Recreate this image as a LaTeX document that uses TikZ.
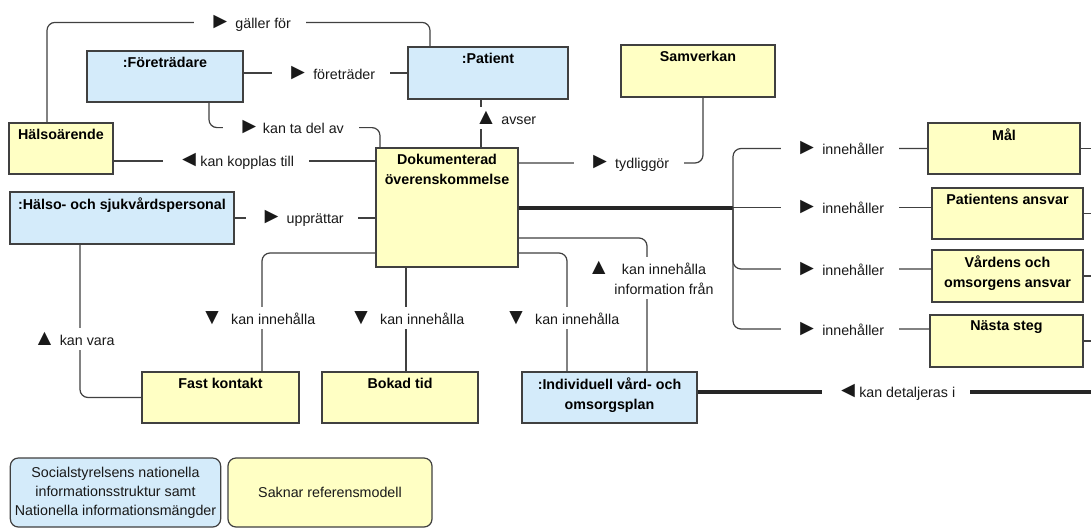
\documentclass[tikz,border=0pt]{standalone}
\usepackage{fontspec}
\setmainfont{Liberation Sans}
\definecolor{umlblue}{RGB}{212,235,250}
\definecolor{umlyellow}{RGB}{255,255,196}
\definecolor{edgegray}{RGB}{64,64,64}
\definecolor{txtgray}{RGB}{25,25,25}
\newcommand{\diafont}{\fontsize{10.7}{15}\selectfont}
\newcommand{\bigtri}[1]{{\fontsize{17}{15}\selectfont #1}}
\newcommand{\pointR}{\bigtri{►}}
\newcommand{\pointL}{\bigtri{◄}}
\newcommand{\pointU}{\bigtri{▲}}
\newcommand{\pointD}{\bigtri{▼}}
\tikzstyle{cls} = [rectangle, draw=edgegray, line width=0.9pt, inner sep=0pt]
\tikzstyle{ttl} = [anchor=north, yshift=-4.5pt, inner sep=0pt, align=center, font=\diafont\bfseries, text=black]
\tikzstyle{conn} = [draw=edgegray, line width=0.9pt, rounded corners=6pt]
\tikzstyle{trunk} = [draw=black!85, line width=3pt]
\tikzstyle{lbl} = [fill=white, inner xsep=11pt, inner ysep=3pt, text=txtgray]
\tikzstyle{vlbl} = [lbl, inner xsep=3pt]
\tikzstyle{legend} = [rectangle, rounded corners=6pt, draw=edgegray, line width=0.9pt, align=center, text=txtgray, font=\fontsize{10.7}{14.3}\selectfont]

\begin{document}
\begin{tikzpicture}[x=0.75pt, y=-0.75pt, font=\diafont]
\useasboundingbox[fill=white] (0,0) rectangle (1091,529);

% classes
\node at (165,76.5) (fore) [cls, fill=umlblue, minimum width=117pt, minimum height=38.25pt, label={[ttl]north:{:Företrädare}}] {};
\node at (488,73) (patient) [cls, fill=umlblue, minimum width=120pt, minimum height=39pt, label={[ttl]north:{:Patient}}] {};
\node at (698,71) (samv) [cls, fill=umlyellow, minimum width=115.5pt, minimum height=39pt, label={[ttl]north:{Samverkan}}] {};
\node at (61,148.5) (halso) [cls, fill=umlyellow, minimum width=78pt, minimum height=38.25pt, label={[ttl]north:{Hälsoärende}}] {};
\node at (122,218) (hsp) [cls, fill=umlblue, minimum width=168pt, minimum height=39pt, label={[ttl]north:{:Hälso- och sjukvårdspersonal}}] {};
\node at (447,207.5) (dok) [cls, fill=umlyellow, minimum width=106.5pt, minimum height=89.25pt, label={[ttl]north:{Dokumenterad\\överenskommelse}}] {};
\node at (1004,148.5) (mal) [cls, fill=umlyellow, minimum width=114pt, minimum height=38.25pt, label={[ttl]north:{Mål}}] {};
\node at (1007.5,213.5) (pansv) [cls, fill=umlyellow, minimum width=113.25pt, minimum height=38.25pt, label={[ttl]north:{Patientens ansvar}}] {};
\node at (1007.5,276) (vansv) [cls, fill=umlyellow, minimum width=113.25pt, minimum height=39pt, label={[ttl]north:{Vårdens och\\omsorgens ansvar}}] {};
\node at (1006.5,341) (nasta) [cls, fill=umlyellow, minimum width=114.75pt, minimum height=39pt, label={[ttl]north:{Nästa steg}}] {};
\node at (220.5,397.5) (fast) [cls, fill=umlyellow, minimum width=117.75pt, minimum height=38.25pt, label={[ttl]north:{Fast kontakt}}] {};
\node at (400,397.5) (bokad) [cls, fill=umlyellow, minimum width=117pt, minimum height=38.25pt, label={[ttl]north:{Bokad tid}}] {};
\node at (609.5,397.5) (ivp) [cls, fill=umlblue, minimum width=131.25pt, minimum height=38.25pt, label={[ttl]north:{:Individuell vård- och\\omsorgsplan}}] {};

% legend
\node at (115.5,492.5) (legNat) [legend, fill=umlblue, minimum width=156.75pt, minimum height=51.75pt] {Socialstyrelsens nationella\\informationsstruktur samt\\Nationella informationsmängder};
\node at (330,492.5) (legSak) [legend, fill=umlyellow, minimum width=153pt, minimum height=51.75pt] {Saknar referensmodell};

\coordinate (br) at (733,207.5);
\coordinate (rim) at (1091,0);

% connectors
\draw [conn] ([xshift=-10.5pt]halso.north) -- ++(0,-100) -| ([xshift=-43.5pt]patient.north);
\draw [conn] (patient.west -| fore.east) -- (patient.west);
\draw [conn] ([xshift=33pt]fore.south) -- ++(0,25) -| ([xshift=-50.25pt]dok.north);
\draw [conn] ([yshift=34.875pt]dok.west) -- ([yshift=34.875pt]dok.west -| halso.east);
\draw [conn] (hsp.east) -- (hsp.east -| dok.west);
\draw [conn] ([xshift=25.5pt]dok.north) -- ([xshift=25.5pt]dok.north |- patient.south);
\draw [conn] ([yshift=33.375pt]dok.east) -| ([xshift=3.75pt]samv.south);
\draw [trunk] (dok.east) -- (br);
\draw [conn] (br) |- (mal.west);
\draw [conn] (br) -- (br -| pansv.west);
\draw [conn] (br) |- ([yshift=5.25pt]vansv.west);
\draw [conn] (br) |- ([yshift=9pt]nasta.west);
\foreach \b in {mal, pansv, vansv, nasta}
  \draw [conn] (\b.east) -- (\b.east -| rim);
\draw [trunk] ([yshift=4pt]ivp.east) -- ([yshift=4pt]ivp.east -| rim);
\draw [conn] ([yshift=-34.125pt]dok.west) -| ([xshift=31.125pt]fast.north);
\draw [conn] ([xshift=-30.75pt]dok.south) -- ([xshift=-30.75pt]dok.south |- bokad.north);
\draw [conn] ([yshift=-34.125pt]dok.east) -| ([xshift=-31.875pt]ivp.north);
\draw [conn] ([yshift=-22.875pt]dok.east) -| ([xshift=28.125pt]ivp.north);
\draw [conn] ([xshift=-31.5pt]hsp.south) |- (fast.west);

% labels
\node at (250,23) (lGaller) [lbl] {\pointR\ gäller för};
\node at (331,73) (lForetr) [lbl] {\pointR\ företräder};
\node at (291,127) (lTaDel) [lbl] {\pointR\,kan ta del av};
\node at (236,161) (lKoppl) [lbl] {\pointL kan kopplas till};
\node at (302,218) (lUpp) [lbl] {\pointR\ upprättar};
\node at (472,118) (lAvser) [lbl, anchor=west, inner xsep=2pt] {\pointU\ avser};
\node at (629,163) (lTydl) [lbl] {\pointR\ tydliggör};
\foreach \y [count=\i] in {148.5,207.5,269,329}
  \node at (840,\y) (lInn\i) [lbl] {\pointR\ innehåller};
\node at (896,392) (lDetalj) [lbl] {\pointL kan detaljeras i};
\node at (258,318) (lFast) [vlbl] {\pointD\ \ kan innehålla};
\node at (407,318) (lBokad) [vlbl] {\pointD\ \ kan innehålla};
\node at (562,318) (lIvp) [vlbl] {\pointD\ \ kan innehålla};
\node at (664,278) (lInfo) [vlbl, align=center] {\llap{\pointU\hspace{9pt}}kan innehålla\\information från};
\node at (74,339) (lVara) [vlbl] {\pointU\ kan vara};

\end{tikzpicture}
\end{document}
